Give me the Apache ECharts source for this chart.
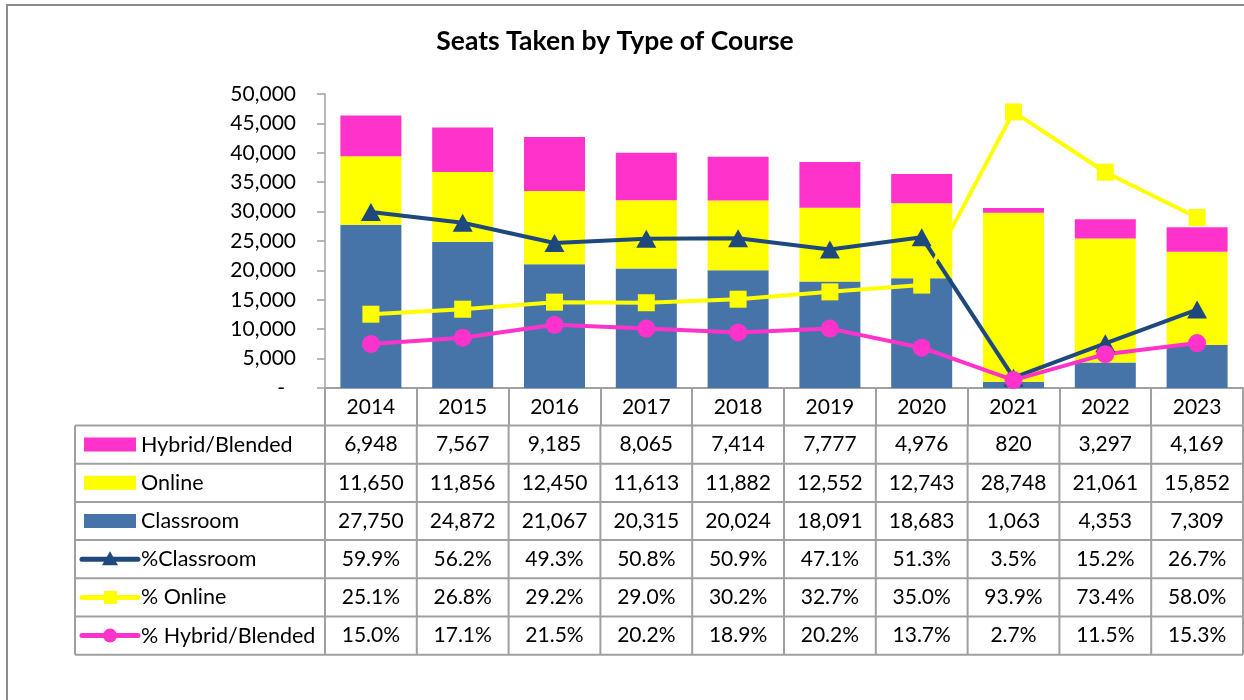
<!DOCTYPE html>
<html>
<head>
<meta charset="utf-8">
<title>Seats Taken by Type of Course</title>
<script src="https://cdn.jsdelivr.net/npm/echarts@6/dist/echarts.min.js"></script>
<style>
  html, body { margin: 0; padding: 0; background: #fff; }
  #chart { width: 1244px; height: 700px; }
</style>
</head>
<body>
<div id="chart"></div>
<script>
  var years = ['2014', '2015', '2016', '2017', '2018', '2019', '2020', '2021', '2022', '2023'];
  var hybrid = [6948, 7567, 9185, 8065, 7414, 7777, 4976, 820, 3297, 4169];
  var online = [11650, 11856, 12450, 11613, 11882, 12552, 12743, 28748, 21061, 15852];
  var classroom = [27750, 24872, 21067, 20315, 20024, 18091, 18683, 1063, 4353, 7309];
  var pctClassroom = [59.9, 56.2, 49.3, 50.8, 50.9, 47.1, 51.3, 3.5, 15.2, 26.7];
  var pctOnline = [25.1, 26.8, 29.2, 29.0, 30.2, 32.7, 35.0, 93.9, 73.4, 58.0];
  var pctHybrid = [15.0, 17.1, 21.5, 20.2, 18.9, 20.2, 13.7, 2.7, 11.5, 15.3];
  var seatsMax = 50000, seatsStep = 5000;

  var C_BLUE = '#4774a8', C_YEL = '#ffff00', C_PINK = '#ff33cc', C_NAVY = '#1f497d';
  var GRID_C = '#a0a0a0';
  var FONT = 'Lato, "Open Sans", sans-serif';

  // layout
  var gl = 325, gt = 94, gw = 918, gh = 294;
  var tableTop = gt + gh, headH = 37.5, rowH = 38.2, legLeft = 75;
  var colW = gw / years.length;

  var fmtN = function (v) { return v.toLocaleString('en-US'); };
  var fmtP = function (v) { return v.toFixed(1) + '%'; };

  var rows = [
    { name: 'Hybrid/Blended', kind: 'bar', color: C_PINK, vals: hybrid, fmt: fmtN },
    { name: 'Online', kind: 'bar', color: C_YEL, vals: online, fmt: fmtN },
    { name: 'Classroom', kind: 'bar', color: C_BLUE, vals: classroom, fmt: fmtN },
    { name: '%Classroom', kind: 'triangle', color: C_NAVY, vals: pctClassroom, fmt: fmtP },
    { name: '% Online', kind: 'square', color: C_YEL, vals: pctOnline, fmt: fmtP },
    { name: '% Hybrid/Blended', kind: 'circle', color: C_PINK, vals: pctHybrid, fmt: fmtP }
  ];

  var g = [];
  // outer frame
  g.push({ type: 'rect', shape: { x: 7, y: 5, width: 1400, height: 900 },
    style: { fill: 'none', stroke: '#8c8c8c', lineWidth: 2 }, silent: true });

  var tBody = tableTop + headH;
  var tEnd = tBody + rowH * rows.length;
  // horizontal table lines
  for (var r = 0; r <= rows.length; r++) {
    var yy = tBody + r * rowH;
    g.push({ type: 'line', shape: { x1: legLeft, y1: yy, x2: gl + gw, y2: yy },
      style: { stroke: GRID_C, lineWidth: 2 } });
  }
  // vertical table lines
  g.push({ type: 'line', shape: { x1: legLeft, y1: tBody, x2: legLeft, y2: tEnd },
    style: { stroke: GRID_C, lineWidth: 2 } });
  for (var c = 0; c <= years.length; c++) {
    var xx = gl + c * colW;
    g.push({ type: 'line', shape: { x1: xx, y1: tBody, x2: xx, y2: tEnd },
      style: { stroke: GRID_C, lineWidth: 2 } });
  }

  rows.forEach(function (row, i) {
    var yc = tBody + (i + 0.5) * rowH;
    // legend key
    if (row.kind === 'bar') {
      g.push({ type: 'rect', shape: { x: 84, y: yc - 7, width: 52, height: 14 }, style: { fill: row.color } });
    } else {
      g.push({ type: 'line', shape: { x1: 82, y1: yc, x2: 138, y2: yc },
        style: { stroke: row.color, lineWidth: 5, lineCap: 'round' } });
      if (row.kind === 'triangle') {
        g.push({ type: 'polygon', shape: { points: [[110, yc - 8], [102, yc + 6], [118, yc + 6]] }, style: { fill: row.color } });
      } else if (row.kind === 'square') {
        g.push({ type: 'rect', shape: { x: 104, y: yc - 6.5, width: 13, height: 13 }, style: { fill: row.color } });
      } else {
        g.push({ type: 'circle', shape: { cx: 110, cy: yc, r: 7 }, style: { fill: row.color } });
      }
    }
    g.push({ type: 'text', x: 141, y: yc,
      style: { text: row.name, font: '21.5px ' + FONT, fill: '#000', align: 'left', verticalAlign: 'middle' } });
    row.vals.forEach(function (v, j) {
      g.push({ type: 'text', x: gl + (j + 0.5) * colW, y: yc,
        style: { text: row.fmt(v), font: '21px ' + FONT, fill: '#000', align: 'center', verticalAlign: 'middle' } });
    });
  });

  var option = {
    animation: false,
    backgroundColor: '#fff',
    title: {
      text: 'Seats Taken by Type of Course',
      left: 610, top: 23, textAlign: 'center',
      textStyle: { fontFamily: FONT, fontWeight: 'bold', fontSize: 26.5, color: '#000' }
    },
    grid: { left: gl, top: gt, width: gw, height: gh },
    xAxis: {
      type: 'category',
      data: years,
      axisLine: { lineStyle: { color: GRID_C, width: 2 } },
      axisTick: { show: true, length: headH, lineStyle: { color: GRID_C, width: 2 } },
      axisLabel: { margin: 9, fontFamily: FONT, fontSize: 21, color: '#000' }
    },
    yAxis: [
      {
        type: 'value', min: 0, max: seatsMax, interval: seatsStep,
        axisLine: { show: true, lineStyle: { color: GRID_C, width: 1.5 } },
        axisTick: { show: true, length: 8, lineStyle: { color: GRID_C, width: 1.5 } },
        splitLine: { show: false },
        axisLabel: {
          margin: 29, fontFamily: FONT, fontSize: 21, color: '#000',
          formatter: function (v) { return v === 0 ? '{d|-}' : fmtN(v); },
          rich: { d: { fontFamily: FONT, fontSize: 21, color: '#000', padding: [0, 11, 0, 0] } }
        }
      },
      { type: 'value', min: 0, max: 100, show: false }
    ],
    series: [
      { name: 'Classroom', type: 'bar', stack: 'seats', data: classroom, barWidth: 61, itemStyle: { color: C_BLUE } },
      { name: 'Online', type: 'bar', stack: 'seats', data: online, barWidth: 61, itemStyle: { color: C_YEL } },
      { name: 'Hybrid/Blended', type: 'bar', stack: 'seats', data: hybrid, barWidth: 61, itemStyle: { color: C_PINK } },
      { name: '%Classroom', type: 'line', yAxisIndex: 1, data: pctClassroom, symbol: 'triangle', symbolSize: [20, 18],
        lineStyle: { color: C_NAVY, width: 4 }, itemStyle: { color: C_NAVY } },
      { name: '% Online', type: 'line', yAxisIndex: 1, data: pctOnline, symbol: 'rect', symbolSize: 17,
        lineStyle: { color: C_YEL, width: 4 }, itemStyle: { color: C_YEL } },
      { name: '% Hybrid/Blended', type: 'line', yAxisIndex: 1, data: pctHybrid, symbol: 'circle', symbolSize: 18,
        lineStyle: { color: C_PINK, width: 4 }, itemStyle: { color: C_PINK } }
    ],
    graphic: g
  };

  var chart = echarts.init(document.getElementById('chart'));
  chart.setOption(option);
</script>
</body>
</html>
